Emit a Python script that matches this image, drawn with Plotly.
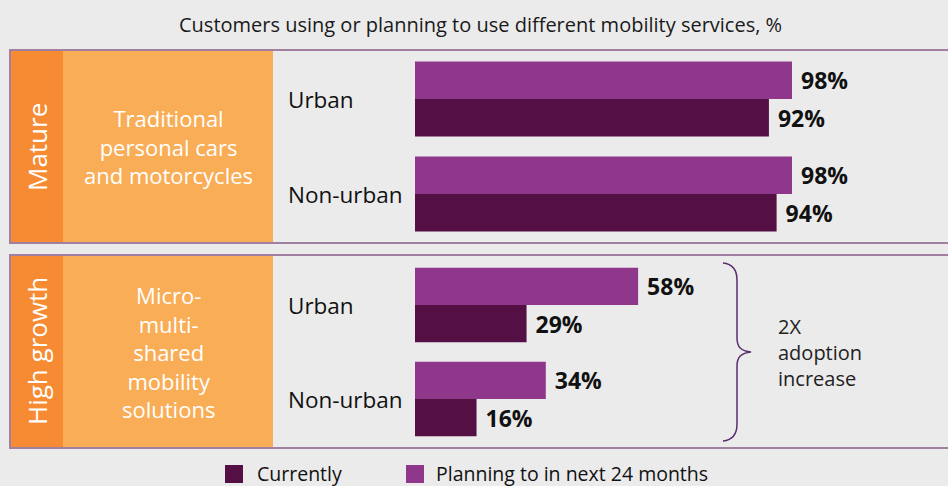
import plotly.graph_objects as go

# ---------------- data ----------------
panels = ["Mature", "High growth"]
segments = ["Traditional<br>personal cars<br>and motorcycles",
            "Micro-<br>multi-<br>shared<br>mobility<br>solutions"]
areas = ["Urban", "Non-urban"]
series_names = ["Currently", "Planning to in next 24 months"]
currently_mature = [92, 94]
planning_mature = [98, 98]
currently_growth = [29, 16]
planning_growth = [58, 34]
title_text = "Customers using or planning to use different mobility services, %"
brace_text = "2X<br>adoption<br>increase"

# ---------------- style ----------------
W, H = 948, 486
BG = "#EBEBEB"
C_CUR = "#541044"
C_PLAN = "#8F378B"
OR_DARK = "#F68B33"
OR_LIGHT = "#F9AD56"
BORDER = "#A07FA0"
FONT = "Open Sans"

def px(x):
    return x / W

def py(y):
    return 1 - y / H

fig = go.Figure()

def add_panel(cur, plan, xa, ya):
    for vals, col, nm in [(plan, C_PLAN, series_names[1]), (cur, C_CUR, series_names[0])]:
        fig.add_trace(go.Bar(
            y=areas, x=vals, orientation="h", name=nm,
            marker=dict(color=col, line=dict(width=0)),
            text=["\u00a0" + f"{v}%" for v in vals], textposition="outside",
            textfont=dict(family=FONT, size=23, color="#111111", weight="bold"),
            cliponaxis=False, constraintext="none", showlegend=False,
            xaxis=xa, yaxis=ya, hoverinfo="skip"))

add_panel(currently_mature, planning_mature, "x", "y")
add_panel(currently_growth, planning_growth, "x2", "y2")

x_dom = [px(415), px(850)]
x_rng = [0, (850 - 415) / (377 / 98)]
axis_common = dict(showgrid=False, zeroline=False, showticklabels=False,
                   ticks="", showline=False, fixedrange=True)

shapes = []
for (top, bot) in [(50, 243), (255, 448)]:
    shapes.append(dict(type="rect", xref="paper", yref="paper", layer="below",
                       x0=px(10), x1=px(63), y0=py(bot), y1=py(top),
                       fillcolor=OR_DARK, line=dict(width=0)))
    shapes.append(dict(type="rect", xref="paper", yref="paper", layer="below",
                       x0=px(63), x1=px(273), y0=py(bot), y1=py(top),
                       fillcolor=OR_LIGHT, line=dict(width=0)))
    shapes.append(dict(type="rect", xref="paper", yref="paper", layer="below",
                       x0=px(10), x1=px(960), y0=py(bot), y1=py(top),
                       fillcolor="rgba(0,0,0,0)", line=dict(color=BORDER, width=2)))

# brace
pts = [(723, 263), (733, 264), (737, 270), (737, 280), (737, 338),
       (737, 347), (741, 351), (751, 352), (741, 353), (737, 357), (737, 366),
       (737, 424), (737, 434), (733, 440), (723, 441)]
P = [f"{px(a):.5f},{py(b):.5f}" for a, b in pts]
path = (f"M {P[0]} C {P[1]} {P[2]} {P[3]} L {P[4]} C {P[5]} {P[6]} {P[7]} "
        f"C {P[8]} {P[9]} {P[10]} L {P[11]} C {P[12]} {P[13]} {P[14]}")
shapes.append(dict(type="path", xref="paper", yref="paper", path=path,
                   line=dict(color="#5B2D6E", width=1.5)))

# legend squares
leg_x = [225, 406]
leg_text_x = [255, 434]
leg_cols = [C_CUR, C_PLAN]
for lx, col in zip(leg_x, leg_cols):
    shapes.append(dict(type="rect", xref="paper", yref="paper",
                       x0=px(lx), x1=px(lx + 18), y0=py(483), y1=py(465),
                       fillcolor=col, line=dict(width=0)))

annotations = []
annotations.append(dict(text=title_text, xref="paper", yref="paper",
                        x=px(481), y=py(24), showarrow=False,
                        xanchor="center", yanchor="middle",
                        font=dict(family=FONT, size=20, color="#1A1A1A")))
for name, cy in zip(panels, [147, 351]):
    annotations.append(dict(text=name, xref="paper", yref="paper",
                            x=px(37), y=py(cy), showarrow=False, textangle=-90,
                            xanchor="center", yanchor="middle",
                            font=dict(family=FONT, size=26, color="white", weight=500)))
for seg, cy in zip(segments, [146, 352]):
    annotations.append(dict(text=seg, xref="paper", yref="paper",
                            x=px(168), y=py(cy), showarrow=False, align="center",
                            xanchor="center", yanchor="middle",
                            font=dict(family=FONT, size=22, color="white", weight=500)))
for yref in ["y", "y2"]:
    for a in areas:
        annotations.append(dict(text=a, xref="paper", yref=yref,
                                x=px(286), y=a, showarrow=False,
                                xanchor="left", yanchor="middle",
                                font=dict(family=FONT, size=22.5, color="#111111")))
annotations.append(dict(text=brace_text, xref="paper", yref="paper",
                        x=px(776), y=py(352), showarrow=False, align="left",
                        xanchor="left", yanchor="middle",
                        font=dict(family=FONT, size=20, color="#222222")))
for tx, name in zip(leg_text_x, series_names):
    annotations.append(dict(text=name, xref="paper", yref="paper",
                            x=px(tx), y=py(473), showarrow=False,
                            xanchor="left", yanchor="middle",
                            font=dict(family=FONT, size=19.5, color="#111111")))

fig.update_layout(
    width=W, height=H, autosize=False,
    margin=dict(l=0, r=0, t=0, b=0),
    paper_bgcolor=BG, plot_bgcolor="rgba(0,0,0,0)",
    barmode="group", bargap=0.21, bargroupgap=0,
    showlegend=False,
    xaxis=dict(domain=x_dom, range=x_rng, anchor="y", **axis_common),
    xaxis2=dict(domain=x_dom, range=x_rng, anchor="y2", **axis_common),
    yaxis=dict(domain=[py(241.5), py(51.5)], autorange="reversed",
               type="category", anchor="x", **axis_common),
    yaxis2=dict(domain=[py(446), py(258)], autorange="reversed",
                type="category", anchor="x2", **axis_common),
    shapes=shapes, annotations=annotations,
    font=dict(family=FONT),
)

fig.write_html("out.html", config={"displayModeBar": False},
               post_script="document.body.style.margin='0';document.body.style.overflow='hidden';")
